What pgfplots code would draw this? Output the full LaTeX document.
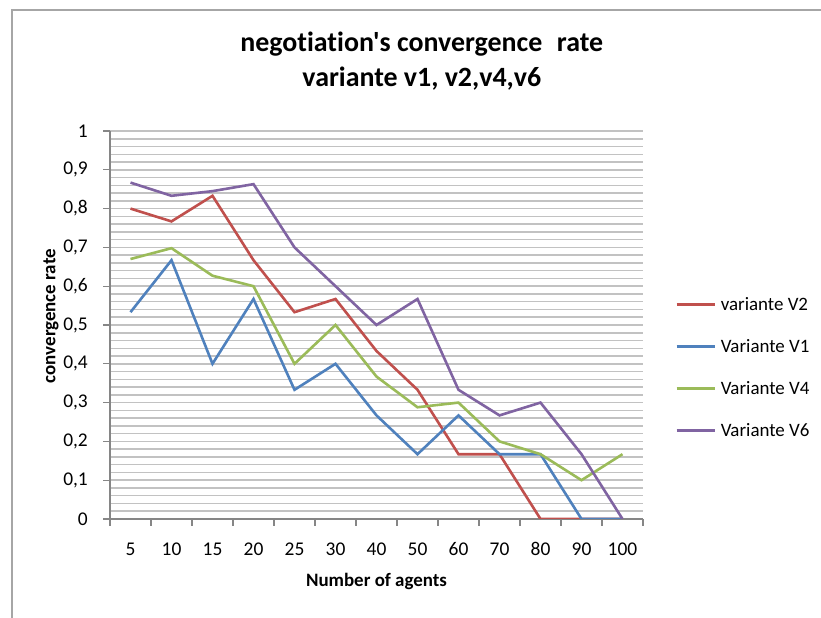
\documentclass[border=0pt]{standalone}
\usepackage{pgfplots}
\pgfplotsset{compat=1.18}
\usepackage{fontspec}
\setmainfont{Carlito}[Ligatures={TeXOff,NoCommon}]
\definecolor{cV2}{HTML}{C0504D}
\definecolor{cV1}{HTML}{4F81BD}
\definecolor{cV4}{HTML}{9BBB59}
\definecolor{cV6}{HTML}{8064A2}
\definecolor{axisgray}{HTML}{868686}
\definecolor{gridgray}{HTML}{C2C2C2}
\definecolor{framegray}{HTML}{A6A6A6}
\pgfplotstableread{
x V2 V1 V4 V6
0.5 0.800 0.533 0.670 0.867
1.5 0.767 0.667 0.698 0.833
2.5 0.833 0.400 0.627 0.845
3.5 0.667 0.567 0.600 0.863
4.5 0.533 0.333 0.400 0.700
5.5 0.567 0.400 0.500 0.600
6.5 0.433 0.267 0.367 0.500
7.5 0.333 0.167 0.288 0.567
8.5 0.167 0.267 0.300 0.333
9.5 0.167 0.167 0.200 0.267
10.5 0.000 0.167 0.167 0.300
11.5 0.000 0.000 0.100 0.167
12.5 0.000 0.000 0.167 0.000
}\datatable
\begin{document}
\begin{tikzpicture}
\useasboundingbox (0,0) rectangle (821bp,618bp);
\fill[white] (0,0) rectangle (821bp,618bp);
\draw[framegray, line width=1.2bp] (12bp,0) -- (12bp,608bp) -- (821bp,608bp);
\begin{axis}[
  at={(110bp,99bp)}, anchor=south west,
  scale only axis, width=533bp, height=388bp,
  xmin=0, xmax=13, ymin=0, ymax=1,
  axis x line=bottom, axis y line=left,
  axis line style={-, draw=axisgray, line width=1.3bp},
  xtick={0,...,13}, xticklabels={},
  extra x ticks={0.5,1.5,2.5,3.5,4.5,5.5,6.5,7.5,8.5,9.5,10.5,11.5,12.5},
  extra x tick labels={5,10,15,20,25,30,40,50,60,70,80,90,100},
  extra x tick style={major tick length=0pt, xticklabel style={anchor=center, yshift=-30bp}},
  ytick={0,0.1,0.2,0.3,0.4,0.5,0.6,0.7,0.8,0.9,1},
  yticklabels={0,{0,1},{0,2},{0,3},{0,4},{0,5},{0,6},{0,7},{0,8},{0,9},1},
  minor y tick num=4,
  ymajorgrids, yminorgrids,
  major grid style={gridgray, line width=1.5bp},
  minor grid style={gridgray, line width=1.5bp},
  tick align=outside, major tick length=7bp, minor tick length=0pt,
  tick style={axisgray, line width=1.2bp},
  ticklabel style={font=\fontsize{19.5}{23}\selectfont, text=black},
  yticklabel style={anchor=east, inner sep=0pt, xshift=-15bp},
  xlabel={Number of agents},
  xlabel style={font=\bfseries\fontsize{19}{23}\selectfont, at={(axis description cs:0.5,0)}, anchor=center, yshift=-62bp},
  ylabel={convergence rate},
  ylabel style={font=\bfseries\fontsize{19}{23}\selectfont, at={(axis description cs:-0.1107,0.523)}, anchor=center},
  title={negotiation's convergence\hspace{0.3em} rate\\variante v1, v2,v4,v6},
  title style={font=\bfseries\fontsize{28}{35}\selectfont, align=center, at={(axis description cs:0.585,1)}, anchor=center, yshift=64bp},
  every axis plot/.append style={line width=2.6bp, no markers},
  legend cell align=left,
  legend image code/.code={\draw[#1, line width=2.6bp] (0bp,0bp) -- (38bp,0bp);},
  legend style={draw=none, fill=none, at={(1,0.39)}, anchor=west, xshift=32bp,
    inner sep=0pt, font=\fontsize{19}{23}\selectfont, row sep=27.5bp, column sep=5bp,
    nodes={inner sep=0pt}},
]
\addplot[cV2] table[x=x, y=V2] {\datatable};
\addlegendentry{variante V2}
\addplot[cV1] table[x=x, y=V1] {\datatable};
\addlegendentry{Variante V1}
\addplot[cV4] table[x=x, y=V4] {\datatable};
\addlegendentry{Variante V4}
\addplot[cV6] table[x=x, y=V6] {\datatable};
\addlegendentry{Variante V6}
\end{axis}
\end{tikzpicture}
\end{document}
